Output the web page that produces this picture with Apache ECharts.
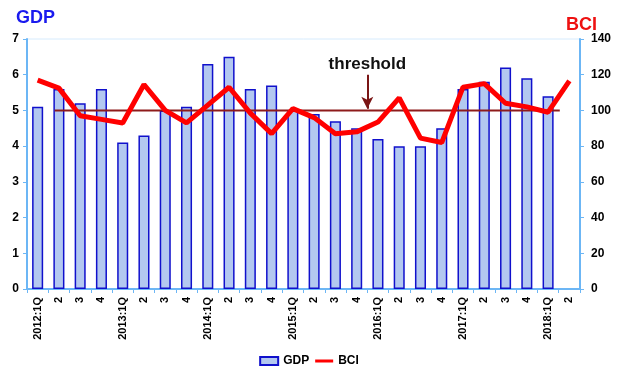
<!DOCTYPE html>
<html>
<head>
<meta charset="utf-8">
<script src="https://cdn.jsdelivr.net/npm/echarts@6/dist/echarts.min.js"></script>
<style>
    html, body { margin: 0; padding: 0; background: #fff; }
    #chart { width: 618px; height: 377px; }
</style>
</head>
<body>
<div id="chart"></div>
<script>
var categories = ['2012:1Q', '2', '3', '4', '2013:1Q', '2', '3', '4', '2014:1Q', '2', '3', '4',
    '2015:1Q', '2', '3', '4', '2016:1Q', '2', '3', '4', '2017:1Q', '2', '3', '4', '2018:1Q', '2'];
var gdp = [5.1, 5.6, 5.2, 5.6, 4.1, 4.3, 5.0, 5.1, 6.3, 6.5, 5.6, 5.7,
    5.0, 4.9, 4.7, 4.5, 4.2, 4.0, 4.0, 4.5, 5.6, 5.8, 6.2, 5.9, 5.4, null];
var bci = [117, 112.5, 97, 95, 93, 114.5, 100, 93, 103, 113, 98.5, 87,
    101, 96, 87, 88, 93.5, 107, 84.5, 82, 113, 115, 104, 102, 99, 116.5];
var thresholdValue = 100;
// start / end of the threshold line and arrow position, in category units
var thresholdSpan = [1.3, 25.05];
var arrowAt = 16;
var arrowTop = 120;

var fontColor = '#000';
var axisColor = '#6cb6f5';
var font = 'Liberation Sans, Arial, sans-serif';

var chart = echarts.init(document.getElementById('chart'));

var option = {
    backgroundColor: '#fff',
    animation: false,
    textStyle: { fontFamily: font },
    title: [
        { text: 'GDP', left: 11, top: 4, textStyle: { color: '#1a1aee', fontSize: 18, fontWeight: 'bold', fontFamily: font } },
        { text: 'BCI', left: 561, top: 11, textStyle: { color: '#ee1111', fontSize: 18, fontWeight: 'bold', fontFamily: font } }
    ],
    legend: {
        bottom: 5,
        left: 'center',
        itemWidth: 18,
        itemHeight: 8,
        itemGap: 6,
        textStyle: { color: fontColor, fontWeight: 'bold', fontSize: 12, fontFamily: font },
        data: [
            { name: 'GDP', icon: 'rect' },
            { name: 'BCI', icon: 'path://M0,0 M18,8 M0,2.5 H18 V5.5 H0 Z' }
        ]
    },
    grid: {
        left: 27, right: 38, top: 39, bottom: 88,
        show: true,
        borderColor: '#d6ebfd',
        borderWidth: 1
    },
    xAxis: [
        {
            type: 'category',
            data: categories,
            axisLine: { lineStyle: { color: axisColor, width: 2 } },
            axisTick: { show: true, inside: false, length: 4, lineStyle: { color: axisColor } },
            axisLabel: { rotate: 90, color: fontColor, fontWeight: 'bold', fontSize: 11, margin: 8, interval: 0, fontFamily: font }
        },
        {
            type: 'value',
            min: 0,
            max: categories.length,
            show: false
        }
    ],
    yAxis: [
        {
            type: 'value',
            min: 0, max: 7, interval: 1,
            axisLine: { show: true, lineStyle: { color: axisColor, width: 2 } },
            axisTick: { show: true, length: 4, lineStyle: { color: axisColor } },
            axisLabel: { color: fontColor, fontWeight: 'bold', fontSize: 12, margin: 8, fontFamily: font },
            splitLine: { show: false }
        },
        {
            type: 'value',
            min: 0, max: 140, interval: 20,
            position: 'right',
            axisLine: { show: true, lineStyle: { color: axisColor, width: 2 } },
            axisTick: { show: true, length: 4, lineStyle: { color: axisColor } },
            axisLabel: { color: fontColor, fontWeight: 'bold', fontSize: 12, margin: 11, fontFamily: font },
            splitLine: { show: false }
        }
    ],
    series: [
        {
            name: 'GDP',
            type: 'bar',
            data: gdp,
            barWidth: '52%',
            itemStyle: { color: '#b3c8f0', borderColor: '#1010cc', borderWidth: 1.5 },
            z: 2
        },
        {
            name: 'threshold',
            type: 'line',
            xAxisIndex: 1,
            yAxisIndex: 1,
            data: [[thresholdSpan[0], thresholdValue], [thresholdSpan[1], thresholdValue]],
            showSymbol: false,
            lineStyle: { color: '#8e1b1b', width: 2 },
            z: 3,
            markLine: {
                silent: true,
                symbol: ['none', 'arrow'],
                symbolSize: [9, 12],
                lineStyle: { color: '#7a1515', width: 2, type: 'solid' },
                label: {
                    show: true,
                    position: 'start',
                    formatter: 'threshold',
                    color: '#111',
                    fontWeight: 'bold',
                    fontSize: 17,
                    distance: 2,
                    fontFamily: font
                },
                data: [[
                    { coord: [arrowAt, arrowTop] },
                    { coord: [arrowAt, thresholdValue + 1] }
                ]]
            }
        },
        {
            name: 'BCI',
            type: 'line',
            yAxisIndex: 1,
            data: bci,
            showSymbol: false,
            lineStyle: { color: '#ff0000', width: 5 },
            itemStyle: { color: '#ff0000' },
            z: 4
        }
    ]
};

chart.setOption(option);
</script>
</body>
</html>
